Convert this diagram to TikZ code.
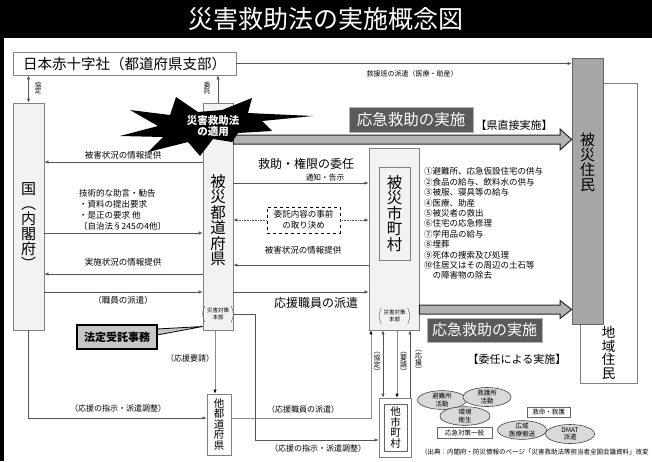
\documentclass[tikz,border=0pt]{standalone}
\usepackage{fontspec}
\setmainfont{Noto Sans CJK JP}
\usetikzlibrary{arrows.meta,calc,shapes.geometric}
\definecolor{pale}{HTML}{F2F2F2}
\definecolor{lineg}{HTML}{555555}
\definecolor{darkbx}{HTML}{5A5A5A}
\definecolor{vicg}{HTML}{A6A6A6}
\definecolor{ellg}{HTML}{D9D9D9}
\begin{document}
\begin{tikzpicture}[x=1pt,y=-1pt,
  fs/.style={font=\fontsize{#1}{#1}\selectfont},
  vt/.style={align=center, inner sep=0, font=\fontsize{#1}{#1}\selectfont},
  lbl/.style={inner sep=0, font=\fontsize{#1}{#1}\selectfont},
  ln/.style={draw=lineg, line width=0.6pt},
  lng/.style={draw=black!45, line width=0.7pt},
  tip/.style={-{Latex[length=4pt,width=3.2pt]}},
  arr/.style={ln, tip},
  arrg/.style={lng, -{Latex[length=4pt,width=3.2pt,black]}},
  biarr/.style={ln, {Latex[length=4pt,width=3.2pt]}-{Latex[length=4pt,width=3.2pt]}},
  pbox/.style={rectangle, draw=black!50, fill=pale, inner sep=0, line width=0.6pt},
  wbox/.style={rectangle, draw=black!50, fill=white, inner sep=0, line width=0.6pt},
  dbox/.style={rectangle, fill=darkbx, draw=black!30, line width=0.8pt, text=white, inner sep=0},
  bigarrow/.style={fill=black!30, draw=black!85, line width=1pt},
  ell/.style={ellipse, draw=black!75, fill=ellg, inner sep=0, line width=0.6pt, align=center, font=\fontsize{6.5}{7.2}\selectfont},
  sbox/.style={rectangle, draw=black!60, fill=white, inner sep=0, line width=0.6pt, font=\fontsize{6.5}{6.5}\selectfont}
]
\useasboundingbox (0,0) rectangle (652,461);
\fill[white] (0,0) rectangle (652,461);
% title
\node[fill=black, minimum width=652, minimum height=38, anchor=north west, inner sep=0, text=white, fs=25] (title) at (0,0) {災害救助法の実施概念図};
\draw[line width=4pt] (2,0) -- (2,461);

% main boxes
\node[wbox, minimum width=223, minimum height=23, fs=14.5] (rc) at (124.5,63.5) {日本赤十字社（都道府県支部）};
\node[pbox, minimum width=31, minimum height=227] (gov) at (28.5,216.5) {};
\node[vt=15] (govt) at (28.5,226) {国\\︵\\内\\閣\\府\\︶};
\node[pbox, minimum width=30, minimum height=227] (pref) at (218,216.5) {};
\node[vt=15.5] (preft) at (218,220) {被\\災\\都\\道\\府\\県};
\node[wbox, minimum width=57, minimum height=300] (local) at (608.5,233) {};
\node[vt=13.5] (localt) at (608.5,353) {地\\域\\住\\民};
\node[rectangle, draw=black!60, fill=vicg, inner sep=0, line width=0.6pt, minimum width=31, minimum height=266] (vic) at (587.5,191) {};
\node[vt=15] (vict) at (587.5,162) {被\\災\\住\\民};
\node[pbox, minimum width=50, minimum height=182] (city) at (394,239) {};
\node[pbox, minimum width=31, minimum height=93, vt=15.5] (cityin) at (394.5,213.5) {被\\災\\市\\町\\村};
\node[wbox, minimum width=24, minimum height=61, vt=10.5] (opref) at (219,424.5) {他\\都\\道\\府\\県};
\node[wbox, minimum width=32, minimum height=59] (ocity) at (395,427.5) {};
\node[wbox, draw=black!60, minimum width=23, minimum height=47, vt=10.5] (ocityin) at (395.5,427.5) {他\\市\\町\\村};

% disaster HQ brackets
\node[align=center, inner sep=0, font=\fontsize{5.5}{6.5}\selectfont] (hq1) at (218,314) {災害対策\\本部};
\node[align=center, inner sep=0, font=\fontsize{5.5}{6.5}\selectfont] (hq2) at (394.5,316) {災害対策\\本部};
\foreach \h in {hq1,hq2}{
  \draw[black!60, line width=0.5pt] ([xshift=-2pt,yshift=2pt]\h.north west) .. controls ([xshift=-5pt]\h.west) .. ([xshift=-2pt,yshift=-2pt]\h.south west);
  \draw[black!60, line width=0.5pt] ([xshift=2pt,yshift=2pt]\h.north east) .. controls ([xshift=5pt]\h.east) .. ([xshift=2pt,yshift=-2pt]\h.south east);
}

% top connectors
\draw[arr] (rc.east) -- (vic.west |- rc.east);
\node[lbl=7] (l0) at (412,74) {救援班の派遣（医療・助産）};
\draw[biarr] (rc.south -| gov.north) -- (gov.north);
\node[vt=6.5] (l1) at (38,88) {協\\定};
\draw[arr] (pref.north) -- (rc.south -| pref.north);
\node[vt=6.5] (l2) at (207,88) {委\\託};

% big arrows
\draw[bigarrow] (pref.east |- 0,135) -- (560,135) -- (560,129) -- (vic.west |- 0,139.5) -- (560,150) -- (560,144) -- (pref.east |- 0,144) -- cycle;
\node[dbox, minimum width=124, minimum height=25, fs=15.5] (ok1) at (411,119.5) {応急救助の実施};
\node[lbl=11] (l3) at (514,125) {【県直接実施】};
\draw[bigarrow] (city.east |- 0,305) -- (560,305) -- (560,300.5) -- (vic.west |- 0,309.5) -- (560,318.5) -- (560,314) -- (city.east |- 0,314) -- cycle;
\node[dbox, minimum width=115, minimum height=24, fs=15] (ok2) at (484.5,330) {応急救助の実施};
\node[lbl=11] (l4) at (517,359) {【委任による実施】};

% starburst
\fill[black] (313,116) -- (262,121) -- (272,131) -- (238,133) -- (232,142) -- (213,139) -- (200,156) -- (188,142) -- (148,152) -- (163,137) -- (120,136) -- (158,126) -- (130,110) -- (170,115) -- (176,97) -- (198,112) -- (222,110) -- (252,98) -- (248,113) -- cycle;
\node[align=center, inner sep=0, text=white, font=\bfseries\fontsize{10.5}{11.5}\selectfont] (burst) at (213,126) {災害救助法\\の適用};

% gov <-> pref
\draw[arr] (pref.west |- 0,162) -- (gov.east |- 0,162);
\node[lbl=8.5] (l5) at (123,155) {被害状況の情報提供};
\node[anchor=north west, align=left, inner sep=0, font=\fontsize{8.5}{11}\selectfont] (l6) at (79,189) {技術的な助言・勧告\\・資料の提出要求\\・是正の要求 他\\〔自治法§245の4他〕};
\draw[arr] (gov.east |- 0,233) -- (pref.west |- 0,233);
\draw[arr] (pref.west |- 0,274) -- (gov.east |- 0,274);
\node[lbl=8.5] (l7) at (123,262) {実施状況の情報提供};
\draw[arr] (gov.east |- 0,292) -- (pref.west |- 0,292);
\node[lbl=8.5] (l8) at (123,300) {（職員の派遣）};

% pref <-> city
\node[lbl=12] (l9) at (306,164) {救助・権限の委任};
\node[lbl=7.7] (l10) at (325,178) {通知・告示};
\draw[arr] (pref.east |- 0,183) -- (city.west |- 0,183);
\node[rectangle, draw=black, dashed, line width=0.7pt, minimum width=73, minimum height=26, inner sep=0, align=center, font=\fontsize{8.5}{10.5}\selectfont] (agree) at (303.5,220) {委託内容の事前\\の取り決め};
\draw[arr, densely dotted] (agree.west) -- (pref.east |- agree.west);
\draw[arr, densely dotted] (agree.east) -- (city.west |- agree.east);
\node[lbl=8.5] (l11) at (303,250) {被害状況の情報提供};
\draw[arr] (city.west |- 0,265) -- (pref.east |- 0,265);
\draw[arr] (pref.east |- 0,292) -- (city.west |- 0,292);
\node[lbl=12] (l12) at (316,303) {応援職員の派遣};

% list
\node[anchor=north west, align=left, inner sep=0, font=\fontsize{8.5}{10.4}\selectfont] (list) at (424,167.5) {①避難所、応急仮設住宅の供与\\②食品の給与、飲料水の供与\\③被服、寝具等の給与\\④医療、助産\\⑤被災者の救出\\⑥住宅の応急修理\\⑦学用品の給与\\⑧埋葬\\⑨死体の捜索及び処理\\⑩住居又はその周辺の土石等\\　の障害物の除去};

% callout
\filldraw[fill=black!22, draw=black, line width=0.8pt] (157,329) -- (pref.west |- 0,326.5) -- (157,335) -- cycle;
\node[rectangle, fill=black!22, draw=black, line width=1.5pt, minimum width=80, minimum height=24, inner sep=0, font=\bfseries\fontsize{11}{11}\selectfont] (hotei) at (117,337) {法定受託事務};

% lower connectors
\draw[arrg] (pref.south -| 215,0) -- (opref.north -| 215,0);
\node[lbl=8] (l13) at (190,358) {（応援要請）};
\draw[arr] (gov.south) |- (opref.west |- 0,418);
\node[lbl=8] (l14) at (118,408) {（応援の指示・派遣調整）};
\draw[arrg] (opref.east |- 0,418) -| (city.south -| 371,0);
\node[lbl=8] (l15) at (303,409) {（応援職員の派遣）};
\draw[arr] (hq1.east -| pref.east) -- (255,314) -- (255,440) -- (ocity.west |- 0,440);
\node[lbl=8] (l16) at (318,448) {（応援の指示・派遣調整）};
\draw[biarr] (city.south -| 383,0) -- (ocity.north -| 383,0);
\draw[arrg] (city.south -| 397,0) -- (ocity.north -| 397,0);
\draw[arr] (ocity.north -| 410,0) -- (city.south -| 410,0);
\node[vt=7] (l17) at (377,363) {︵\\協\\定\\︶};
\node[vt=7] (l18) at (403.5,363) {︵\\要\\請\\︶};
\node[vt=7] (l19) at (418.5,361) {︵\\応\\援\\︶};

% ellipses
\node[ell, minimum width=49, minimum height=18] (e1) at (442,400) {避難所\\活動};
\node[ell, minimum width=48, minimum height=19] (e2) at (487,397) {救護所\\活動};
\node[ell, minimum width=50, minimum height=18] (e3) at (465,416) {環境\\衛生};
\node[sbox, minimum width=55, minimum height=11] (b1) at (464.5,433) {応急対策一般};
\node[sbox, minimum width=43, minimum height=10] (b2) at (548.5,412) {救命・救護};
\node[ell, minimum width=49, minimum height=19] (e5) at (570,434) {DMAT\\派遣};
\node[ell, minimum width=49, minimum height=17] (e4) at (522,430) {広域\\医療搬送};

\node[anchor=west, inner sep=0, font=\fontsize{6.5}{6.5}\selectfont] (src) at (421,452) {（出典：内閣府・防災情報のページ「災害救助法等担当者全国会議資料」改変};
\end{tikzpicture}
\end{document}
